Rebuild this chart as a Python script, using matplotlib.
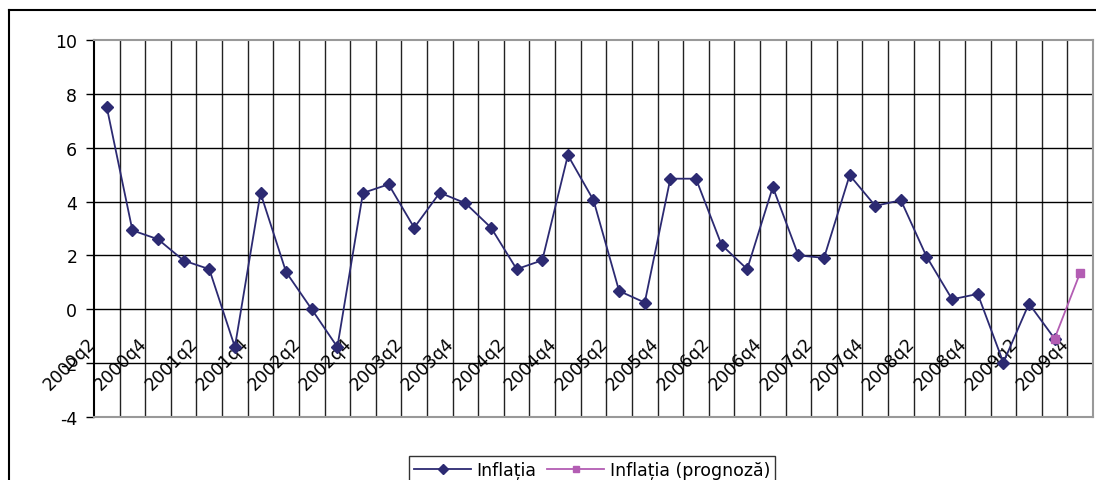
import matplotlib
matplotlib.use("Agg")
import matplotlib.pyplot as plt
import matplotlib.transforms as mtransforms
from matplotlib.lines import Line2D

# quarters 2000q2 .. 2009q4
quarters = [f"{y}q{q}" for y in range(2000, 2010) for q in range(1, 5)][1:]
inflatia = [7.5, 2.93, 2.6, 1.81, 1.49, -1.4, 4.32, 1.38, 0.0, -1.4,
            4.32, 4.64, 3.03, 4.33, 3.94, 3.03, 1.49, 1.82, 5.72, 4.05,
            0.68, 0.25, 4.85, 4.85, 2.39, 1.49, 4.54, 2.0, 1.91, 4.98,
            3.84, 4.05, 1.96, 0.37, 0.57, -1.98, 0.21, -1.09, None]
prognoza = [None] * 37 + [-1.09, 1.36]

navy = "#2c2a72"
pink = "#b35db3"

plt.rcParams['font.family'] = ['DejaVu Sans']
plt.rcParams['axes.unicode_minus'] = False
fs = 12.5
fig = plt.figure(figsize=(10.96, 4.81), dpi=100)
ax = fig.add_axes([94 / 1096, 1 - 418 / 481, 999 / 1096, 377 / 481])

x = list(range(len(quarters)))
xs1 = [i for i, v in zip(x, inflatia) if v is not None]
ys1 = [v for v in inflatia if v is not None]
xs2 = [i for i, v in zip(x, prognoza) if v is not None]
ys2 = [v for v in prognoza if v is not None]
ax.plot(xs1, ys1, color=navy, lw=1.3, marker='D', ms=6, zorder=4, label='Inflația')
ax.plot(xs2, ys2, color=pink, lw=1.3, marker='s', ms=6, zorder=5, label='Inflația (prognoză)')

ax.set_xlim(-0.5, len(quarters) - 0.5)
ax.set_ylim(-4, 10)
ax.set_yticks(range(-4, 11, 2))
ax.tick_params(axis='y', length=6, width=1, labelsize=fs, direction='out', pad=6)

# vertical gridlines at category boundaries
for b in range(1, len(quarters)):
    ax.axvline(b - 0.5, color='#222222', lw=1, zorder=1)
for yv in range(-2, 10, 2):
    ax.axhline(yv, color='black', lw=1, zorder=1)

ax.set_xticks([])
for s in ['top', 'right', 'bottom']:
    ax.spines[s].set_color('#999999')
    ax.spines[s].set_linewidth(1.5)
ax.spines['left'].set_color('black')
ax.spines['left'].set_linewidth(1.5)

# category labels hanging below the zero line
off = mtransforms.ScaledTranslation(-0.14, -0.31, fig.dpi_scale_trans)
for i in range(0, len(quarters), 2):
    ax.text(i, 0, quarters[i], rotation=45, ha='right', va='center',
            rotation_mode='anchor', fontsize=fs, zorder=3,
            transform=ax.transData + off)

handles = [Line2D([], [], color=navy, lw=1.3, marker='D', ms=5),
           Line2D([], [], color=pink, lw=1.3, marker='s', ms=5)]
leg = fig.legend(handles, ['Inflația', 'Inflația (prognoză)'], loc='upper center',
                 bbox_to_anchor=(592 / 1096, 1 - 448 / 481), ncol=2, fontsize=fs,
                 frameon=True, fancybox=False, edgecolor='black', handlelength=3.3,
                 columnspacing=0.6, handletextpad=0.3, borderpad=0.3)
leg.get_frame().set_linewidth(1)

# outer chart frame
fig.add_artist(Line2D([8.5 / 1096, 8.5 / 1096], [0, 1 - 11 / 481], color='black', lw=1.5,
                      transform=fig.transFigure))
fig.add_artist(Line2D([8.5 / 1096, 1], [1 - 11 / 481, 1 - 11 / 481], color='black', lw=1.5,
                      transform=fig.transFigure))

fig.savefig('out.png', dpi=100)
